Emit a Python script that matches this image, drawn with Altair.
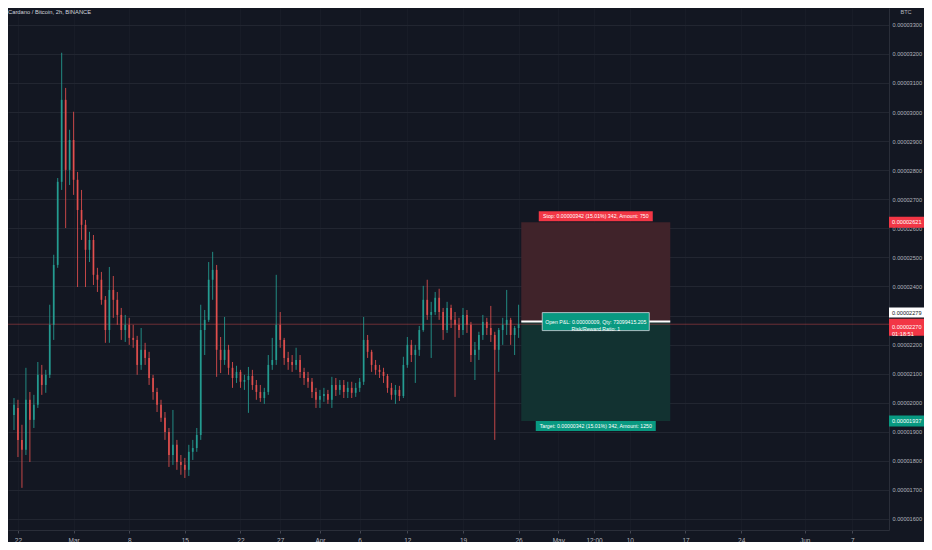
import altair as alt
import pandas as pd

# 12h candles, prices in 1e-8 BTC
opens = [1958, 1982, 1872, 1838, 2010, 1941, 1993, 2096, 2061, 2096,
         2268, 2474, 2760, 3042, 2801, 2904, 2767, 2663, 2612, 2526,
         2560, 2440, 2423, 2354, 2250, 2388, 2354, 2302, 2250, 2268,
         2223, 2216, 2130, 2182, 2154, 2085, 2037, 1993, 1948, 1899,
         1820, 1855, 1796, 1786, 1769, 1831, 1844, 1889, 2250, 2285,
         2423, 2457, 2182, 2147, 2182, 2120, 2085, 2106, 2072, 2078,
         2092, 2061, 2037, 2016, 2037, 2130, 2147, 2268, 2216, 2154,
         2140, 2130, 2147, 2106, 2085, 2072, 2037, 2010, 2023, 2030,
         2010, 2061, 2044, 2061, 2037, 2051, 2034, 2051, 2072, 2216,
         2175, 2130, 2113, 2106, 2092, 2051, 2027, 2044, 2023, 2130,
         2199, 2164, 2182, 2250, 2354, 2302, 2312, 2361, 2312, 2250,
         2326, 2285, 2268, 2250, 2302, 2268, 2164, 2182, 2233, 2278,
         2257, 2233, 2182, 2250, 2268, 2285, 2233, 2257]
closes = [1993, 1872, 1838, 2010, 1941, 1993, 2096, 2061, 2096, 2268,
          2474, 2760, 3042, 2801, 2904, 2767, 2663, 2612, 2526, 2560,
          2440, 2423, 2354, 2250, 2388, 2354, 2302, 2250, 2268, 2223,
          2216, 2130, 2182, 2154, 2085, 2037, 1993, 1948, 1899, 1820,
          1855, 1796, 1786, 1769, 1831, 1844, 1889, 2250, 2285, 2423,
          2457, 2182, 2147, 2182, 2120, 2085, 2106, 2072, 2078, 2092,
          2061, 2037, 2016, 2037, 2130, 2147, 2268, 2216, 2154, 2140,
          2130, 2147, 2106, 2085, 2072, 2037, 2010, 2023, 2030, 2010,
          2061, 2044, 2061, 2037, 2051, 2034, 2051, 2072, 2216, 2175,
          2130, 2113, 2106, 2092, 2051, 2027, 2044, 2023, 2130, 2199,
          2164, 2182, 2250, 2354, 2302, 2312, 2361, 2312, 2250, 2326,
          2285, 2268, 2250, 2302, 2268, 2164, 2182, 2233, 2278, 2257,
          2233, 2182, 2250, 2268, 2285, 2233, 2257, 2270]
highs = [2016, 2010, 1924, 2120, 2037, 2027, 2140, 2130, 2113, 2337,
         2509, 2773, 3204, 3083, 2939, 3001, 2794, 2732, 2629, 2588,
         2577, 2464, 2450, 2367, 2467, 2436, 2381, 2326, 2302, 2292,
         2268, 2230, 2257, 2206, 2175, 2096, 2051, 2010, 1968, 1913,
         1975, 1872, 1820, 1810, 1855, 1872, 1913, 2337, 2319, 2484,
         2519, 2474, 2226, 2295, 2199, 2140, 2127, 2113, 2096, 2123,
         2113, 2078, 2061, 2051, 2164, 2223, 2440, 2312, 2223, 2175,
         2164, 2189, 2164, 2120, 2106, 2085, 2051, 2044, 2051, 2044,
         2089, 2085, 2078, 2078, 2072, 2072, 2068, 2085, 2295, 2233,
         2182, 2147, 2130, 2120, 2099, 2068, 2061, 2058, 2158, 2226,
         2216, 2199, 2264, 2402, 2423, 2347, 2381, 2392, 2326, 2347,
         2337, 2312, 2292, 2326, 2319, 2278, 2209, 2244, 2302, 2292,
         2333, 2244, 2257, 2292, 2388, 2292, 2264, 2337]
lows = [1906, 1813, 1707, 1820, 1796, 1913, 1982, 2027, 2034, 2085,
        2216, 2464, 2732, 2601, 2749, 2715, 2398, 2560, 2398, 2484,
        2405, 2381, 2337, 2206, 2206, 2292, 2268, 2216, 2209, 2199,
        2189, 2096, 2113, 2130, 2061, 2010, 1968, 1934, 1872, 1779,
        1786, 1769, 1752, 1741, 1748, 1803, 1831, 1872, 2164, 2278,
        2354, 2089, 2102, 2130, 2096, 2051, 2068, 2051, 2044, 1965,
        2044, 2010, 2003, 1996, 2027, 2113, 2130, 2189, 2130, 2113,
        2106, 2113, 2085, 2061, 2051, 2016, 1982, 1982, 2003, 1996,
        1982, 2023, 2027, 2016, 2016, 2016, 2020, 2037, 2061, 2154,
        2106, 2096, 2085, 2068, 2034, 2010, 1996, 2006, 2016, 2120,
        2140, 2068, 2161, 2244, 2285, 2154, 2302, 2285, 2216, 2240,
        2257, 2020, 2223, 2233, 2240, 2140, 2078, 2147, 2216, 2233,
        2209, 1872, 2106, 2199, 2233, 2199, 2164, 2223]
first_candle = "2021-02-21 12:00"

price_ticks = [1600, 1700, 1800, 1900, 2000, 2100, 2200, 2300, 2400,
               2500, 2600, 2700, 2800, 2900, 3000, 3100, 3200, 3300]
hidden_tick = 2300  # sits under the entry / last price tags
date_ticks = ["2021-02-22", "2021-03-01", "2021-03-08", "2021-03-15",
              "2021-03-22", "2021-03-27", "2021-04-01", "2021-04-06",
              "2021-04-12", "2021-04-19", "2021-04-26", "2021-05-01",
              "2021-05-05 12:00", "2021-05-10", "2021-05-17", "2021-05-24",
              "2021-06-01", "2021-06-07"]

# short position tool
entry = 2279
stop = 2621
target = 1937
last_price = 2270
amounts = [750, 1250]
qty = "73099415.205"
countdown = "01:18:51"
pos_start = "2021-04-26 08:00"
pos_end = "2021-05-15 02:00"

up = "#26a69a"
down = "#ef5350"
red = "#f23645"
teal = "#089981"
txt = "#b2b5be"
font = "Liberation Sans"


def ms(s):
    return int(pd.Timestamp(s, tz="UTC").value // 10**6)


def iso(s):
    return pd.Timestamp(s).strftime("%Y-%m-%dT%H:%M:%SZ")


def box(w, h):
    a = h / w
    return f"M-1,-{a:.4f}L1,-{a:.4f}L1,{a:.4f}L-1,{a:.4f}Z"


def sat(v):
    return f"{v / 1e8:.8f}"


times = pd.date_range(first_candle, periods=len(opens), freq="12h")
candles = pd.DataFrame({
    "t": times.strftime("%Y-%m-%dT%H:%M:%SZ"),
    "open": opens, "high": highs, "low": lows, "close": closes,
})

x_scale = alt.Scale(type="utc", domain=[ms("2021-02-21 09:00"), ms("2021-06-10 23:30")])
y_scale = alt.Scale(domain=[1562, 3358], nice=False, zero=False)

# same axis objects on every layer so the shared axes merge cleanly
x_axis = alt.Axis(
    values=[ms(d) for d in date_ticks], title=None,
    labelExpr="utchours(datum.value) == 12 ? '12:00' : (utcdate(datum.value) == 1 ? utcFormat(datum.value, '%b') : utcFormat(datum.value, '%-d'))",
    grid=True, gridColor="#181c27", domainColor="#2a2e39", tickColor="#434651",
    tickSize=3, labelColor=txt, labelFontSize=6.5, labelFont=font, labelPadding=4,
    labelFlush=False, labelOverlap=False)
y_axis = alt.Axis(
    orient="right", values=price_ticks, title=None,
    labelExpr=f"datum.value == {hidden_tick} ? '' : format(datum.value / 100000000, '.8f')",
    grid=True, gridColor="#222631", domainColor="#2a2e39", ticks=False,
    labelAlign="left", labelPadding=3, labelColor=txt, labelFontSize=5.6,
    labelFont=font, labelFlush=False, labelOverlap=False)


def X(field):
    return alt.X(field, scale=x_scale, axis=x_axis)


def Y(field):
    return alt.Y(field, scale=y_scale, axis=y_axis)


cond = alt.condition("datum.close >= datum.open", alt.value(up), alt.value(down))
base = alt.Chart(candles)
wicks = base.mark_rule(strokeWidth=1, opacity=0.8).encode(
    x=X("t:T"), y=Y("low:Q"), y2="high:Q", color=cond)
bodies = base.mark_bar(width=1.8, opacity=0.8).encode(
    x=X("t:T"), y=Y("open:Q"), y2="close:Q", color=cond)

zones = pd.DataFrame({
    "start": [iso(pos_start)] * 2, "end": [iso(pos_end)] * 2,
    "lo": [entry, target], "hi": [stop, entry], "fill": ["#40232a", "#123231"],
})
zone_rects = alt.Chart(zones).mark_rect().encode(
    x=X("start:T"), x2="end:T", y=Y("lo:Q"), y2="hi:Q",
    color=alt.Color("fill:N", scale=None))

price_line = alt.Chart(pd.DataFrame({"p": [last_price]})).mark_rule(
    color=down, opacity=0.4, strokeWidth=1).encode(y=Y("p:Q"))

entry_line = alt.Chart(zones.iloc[:1].assign(p=entry)).mark_rule(
    color="white", strokeWidth=2).encode(x=X("start:T"), x2="end:T", y=Y("p:Q"))

mid = pd.Timestamp(pos_start) + (pd.Timestamp(pos_end) - pd.Timestamp(pos_start)) / 2
pct = f"{(stop - entry) / entry * 100:.2f}%"
stop_txt = f"Stop: {sat(stop - entry)} ({pct}) {stop - entry}, Amount: {amounts[0]}"
target_txt = f"Target: {sat(entry - target)} ({pct}) {entry - target}, Amount: {amounts[1]}"
pnl_txt = f"Open P&L: {sat(entry - last_price)}, Qty: {qty}\nRisk/Reward Ratio: {round((entry - target) / (stop - entry))}"


def label(price, text, color, w, h, dy, stroke=None):
    df = pd.DataFrame({"t": [mid.strftime("%Y-%m-%dT%H:%M:%SZ")], "p": [price], "text": [text]})
    enc = dict(x=X("t:T"), y=Y("p:Q"))
    kw = dict(stroke=stroke, strokeWidth=0.8) if stroke else dict(strokeWidth=0)
    b = alt.Chart(df).mark_point(shape=box(w, h), size=w * w, filled=True,
                                 color=color, opacity=1, yOffset=dy, **kw).encode(**enc)
    t = alt.Chart(df).mark_text(fontSize=5.2, font=font, color="white", yOffset=dy,
                                lineBreak="\n", lineHeight=7).encode(text="text:N", **enc)
    return b + t


def tag(price, text, color, h, dy, text_color="white"):
    df = pd.DataFrame({"p": [price], "text": [text]})
    b = alt.Chart(df).mark_point(shape=box(36, h), size=36 * 36, filled=True,
                                 color=color, opacity=1, strokeWidth=0, yOffset=dy).encode(
        x=alt.value(899), y=Y("p:Q"))
    t = alt.Chart(df).mark_text(fontSize=5.6, font=font, color=text_color, align="left",
                                yOffset=dy, lineBreak="\n", lineHeight=7).encode(
        x=alt.value(884), y=Y("p:Q"), text="text:N")
    return b + t


header = alt.Chart(pd.DataFrame({"text": ["Cardano / Bitcoin, 2h, BINANCE"]})).mark_text(
    align="left", fontSize=5.8, font=font, color="#d1d4dc").encode(
    x=alt.value(0), y=alt.value(4), text="text:N")
unit = alt.Chart(pd.DataFrame({"text": ["BTC"]})).mark_text(
    fontSize=5.6, font=font, color=txt).encode(
    x=alt.value(898), y=alt.value(4), text="text:N")

chart = alt.layer(
    zone_rects, price_line, wicks, bodies, entry_line,
    label(stop, stop_txt, red, 114, 10, -6),
    label(target, target_txt, teal, 120, 10, 5),
    label(entry, pnl_txt, teal, 107, 18, 0, stroke="#d1d4dc"),
    tag(stop, sat(stop), red, 11, 0),
    tag(entry, sat(entry), "white", 10, -9, text_color="#131722"),
    tag(last_price, sat(last_price) + "\n" + countdown, red, 17, 3),
    tag(target, sat(target), teal, 11, 0),
    header, unit,
).properties(
    width=881, height=522,
    autosize=alt.AutoSizeParams(type="none"),
    padding={"left": 0, "top": 0, "right": 35, "bottom": 12},
).configure(background="#131722").configure_view(stroke=None)

chart.save("out.html", embed_options={"renderer": "svg", "actions": False})
